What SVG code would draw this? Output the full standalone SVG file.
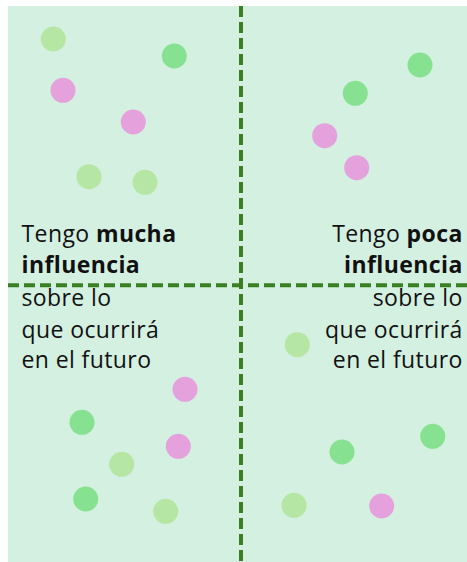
<svg xmlns="http://www.w3.org/2000/svg" width="467" height="562" viewBox="0 0 467 562">
<style>
.lg{fill:#b5e6a3}
.g{fill:#86e290}
.p{fill:#e5a1dc}
.t{font-family:"Open Sans",Lato,sans-serif;font-size:23px;letter-spacing:0.4px;fill:#111}
.b{font-weight:bold}
.d{stroke:#3b7f24;stroke-width:4;stroke-dasharray:11 5;fill:none}
</style>
<rect x="8" y="6" width="459" height="556" fill="#d4f0e1"/>
<g id="dots">
<circle class="lg" cx="53.3" cy="39" r="12.5"/>
<circle class="g" cx="174.3" cy="56" r="12.5"/>
<circle class="p" cx="63" cy="90.3" r="12.5"/>
<circle class="p" cx="133.3" cy="122" r="12.5"/>
<circle class="lg" cx="89" cy="176.7" r="12.5"/>
<circle class="lg" cx="145" cy="182.3" r="12.5"/>
<circle class="g" cx="420" cy="65" r="12.5"/>
<circle class="g" cx="355.3" cy="93.3" r="12.5"/>
<circle class="p" cx="324.7" cy="135.7" r="12.5"/>
<circle class="p" cx="356.7" cy="167.7" r="12.5"/>
<circle class="lg" cx="297.3" cy="344.7" r="12.5"/>
<circle class="p" cx="185" cy="389.3" r="12.5"/>
<circle class="g" cx="82" cy="422.3" r="12.5"/>
<circle class="p" cx="178.3" cy="446.3" r="12.5"/>
<circle class="lg" cx="121.7" cy="464.3" r="12.5"/>
<circle class="g" cx="85.7" cy="499" r="12.5"/>
<circle class="lg" cx="165.7" cy="511.3" r="12.5"/>
<circle class="g" cx="432.7" cy="436.3" r="12.5"/>
<circle class="g" cx="342" cy="452" r="12.5"/>
<circle class="lg" cx="294" cy="505.3" r="12.5"/>
<circle class="p" cx="381.7" cy="506" r="12.5"/>
</g>
<g id="axes">
<line class="d" x1="241" y1="6" x2="241" y2="562"/>
<line class="d" x1="8" y1="285.3" x2="467" y2="285.3"/>
</g>
<g id="label-left">
<text class="t" x="21.5" y="241.7">Tengo <tspan class="b">mucha</tspan></text>
<text class="t b" x="21.5" y="273">influencia</text>
<text class="t" x="21.5" y="306">sobre lo</text>
<text class="t" x="21.5" y="337.7">que ocurrirá</text>
<text class="t" x="21.5" y="368">en el futuro</text>
</g>
<g id="label-right">
<text class="t" x="462.7" y="241.7" text-anchor="end">Tengo <tspan class="b">poca</tspan></text>
<text class="t b" x="462.7" y="273" text-anchor="end">influencia</text>
<text class="t" x="462.7" y="306" text-anchor="end">sobre lo</text>
<text class="t" x="462.7" y="337.7" text-anchor="end">que ocurrirá</text>
<text class="t" x="462.7" y="368" text-anchor="end">en el futuro</text>
</g>
</svg>
